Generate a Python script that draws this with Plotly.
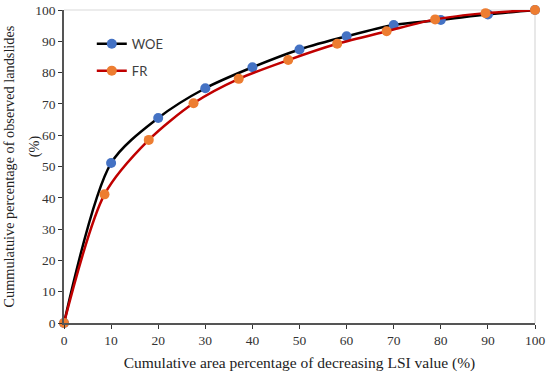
import plotly.graph_objects as go

woe_x = [0, 10, 20, 30, 40, 50, 60, 70, 80, 90, 100]
woe_y = [0, 51.1, 65.5, 75.0, 81.7, 87.4, 91.6, 95.2, 96.8, 98.6, 100]
fr_x = [0, 8.6, 18.0, 27.5, 37.1, 47.6, 58.0, 68.5, 78.8, 89.5, 100]
fr_y = [0, 41.1, 58.5, 70.2, 78.0, 84.0, 89.2, 93.2, 97.0, 99.0, 100]
tick_vals = [0, 10, 20, 30, 40, 50, 60, 70, 80, 90, 100]
x_title = "Cumulative area percentage of decreasing LSI value (%)"
y_title_lines = ["Cummulatuive percentage of observed landslides", "(%)"]

fig = go.Figure()
fig.add_trace(go.Scatter(x=woe_x, y=woe_y, name="WOE", mode="lines+markers", legendgroup="a",
                         line=dict(color="black", width=2.5, shape="spline", smoothing=0.8),
                         marker=dict(color="#4472C4", size=10)))
fig.add_trace(go.Scatter(x=fr_x, y=fr_y, name="FR", mode="lines+markers", legendgroup="b",
                         line=dict(color="#C00000", width=2.5, shape="spline", smoothing=0.8),
                         marker=dict(color="#ED7D31", size=10)))

tickfont = dict(family="Liberation Serif", size=13.5, color="#333333")
title_font = dict(family="Liberation Serif", size=14.3, color="#222222")
fig.update_layout(
    width=550, height=374,
    margin=dict(l=64, r=15, t=10, b=51, autoexpand=False),
    paper_bgcolor="white", plot_bgcolor="white",
    showlegend=True,
    legend=dict(x=0.059, y=0.94, xanchor="left", yanchor="top", traceorder="grouped",
                font=dict(family="Lato", size=13, color="#404040"),
                bgcolor="rgba(0,0,0,0)", tracegroupgap=7),
    xaxis=dict(range=[0, 100], tickvals=tick_vals, showgrid=False, zeroline=False,
               showline=True, linecolor="#555555", linewidth=1.5, automargin=True,
               ticks="outside", ticklen=4, tickcolor="#333333", tickwidth=1.2,
               tickfont=tickfont,
               title=dict(text=x_title,
                          font=dict(family="Liberation Serif", size=15.5, color="#222222"),
                          standoff=10)),
    yaxis=dict(range=[0, 100], tickvals=tick_vals, showgrid=False, zeroline=False,
               showline=True, linecolor="#555555", linewidth=1.5, automargin=False,
               ticks="outside", ticklen=4, tickcolor="#333333", tickwidth=1.2,
               tickfont=tickfont),
    xaxis2=dict(overlaying="x", matches="x", anchor="y", range=[0, 100], tickvals=tick_vals,
                ticks="inside", ticklen=4, tickcolor="#333333", tickwidth=1.2, automargin=False,
                showticklabels=False, showgrid=False, zeroline=False, showline=False),
    yaxis2=dict(overlaying="y", matches="y", anchor="x", range=[0, 100], tickvals=tick_vals,
                ticks="inside", ticklen=4, tickcolor="#333333", tickwidth=1.2, automargin=False,
                showticklabels=False, showgrid=False, zeroline=False, showline=False),
    annotations=[
        dict(text=y_title_lines[0], xref="paper", yref="paper", x=-0.1168, y=0.5,
             xanchor="center", yanchor="middle", textangle=-90, showarrow=False, font=title_font),
        dict(text=y_title_lines[1], xref="paper", yref="paper", x=-0.0637, y=0.565,
             xanchor="center", yanchor="middle", textangle=-90, showarrow=False, font=title_font),
    ],
    shapes=[
        dict(type="line", xref="x domain", yref="y domain", x0=0, x1=1, y0=1, y1=1,
             line=dict(color="#D9D9D9", width=1.2), layer="below"),
        dict(type="line", xref="x domain", yref="y domain", x0=1, x1=1, y0=0, y1=1,
             line=dict(color="#D9D9D9", width=1.2), layer="below"),
    ],
)
fig.update_traces(cliponaxis=False)
fig.write_html("out.html", config={"displayModeBar": False},
               post_script="document.body.style.margin='0';document.body.style.overflow='hidden';")
